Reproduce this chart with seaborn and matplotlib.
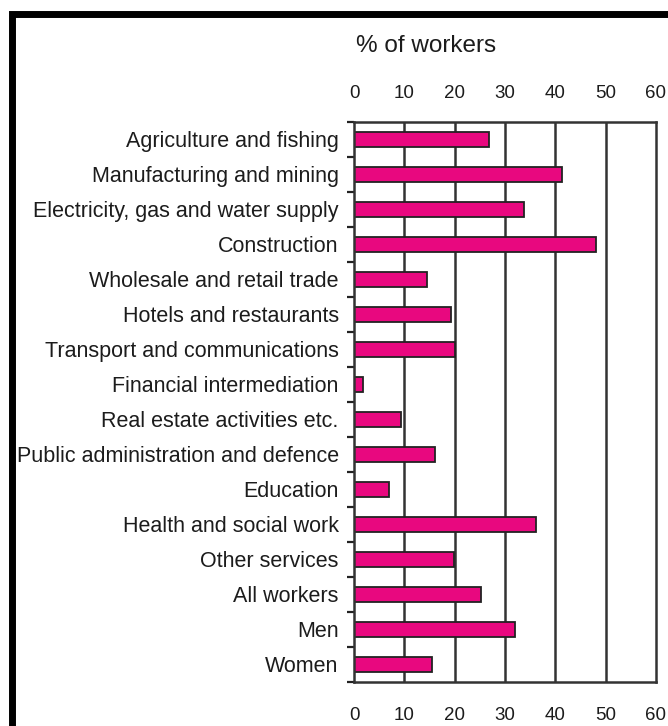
import matplotlib
matplotlib.use("Agg")
import matplotlib.pyplot as plt
import seaborn as sns
import pandas as pd
from matplotlib.patches import Rectangle

sectors = [
    "Agriculture and fishing", "Manufacturing and mining",
    "Electricity, gas and water supply", "Construction",
    "Wholesale and retail trade", "Hotels and restaurants",
    "Transport and communications", "Financial intermediation",
    "Real estate activities etc.", "Public administration and defence",
    "Education", "Health and social work", "Other services",
    "All workers", "Men", "Women",
]
pct_workers = [26.8, 41.4, 33.8, 48.0, 14.5, 19.2, 20.0, 1.8,
               9.3, 16.0, 7.0, 36.2, 19.8, 25.3, 32.0, 15.4]
x_ticks = [0, 10, 20, 30, 40, 50, 60]

BAR = "#E8087F"
INK = "#1c1c1c"

sns.set_theme(style="white")
plt.rcParams["font.family"] = ["Liberation Sans", "DejaVu Sans"]

df = pd.DataFrame({"sector": sectors, "pct": pct_workers})

fig = plt.figure(figsize=(6.68, 7.26), dpi=100)
ax = fig.add_axes([0.530, 0.061, 0.452, 0.771])

sns.barplot(data=df, x="pct", y="sector", orient="h", color=BAR,
            saturation=1, width=0.42, edgecolor="#222222", linewidth=1.3, ax=ax)

ax.set_xlim(0, 60)
ax.set_ylim(len(sectors) - 0.5, -0.5)
ax.set_xticks(x_ticks)
ax.set_xticklabels([str(t) for t in x_ticks])
for t in x_ticks[1:-1]:
    ax.axvline(t, color="#333333", linewidth=1.8, zorder=0)

ax.tick_params(axis="x", top=True, bottom=False, labeltop=True, labelbottom=True,
               length=0, pad=0, labelsize=13.5, labelcolor=INK)
# top and bottom labels sit well away from the frame
for tk in ax.xaxis.get_major_ticks():
    tk.label1.set_y(-0.045)
    tk.label2.set_y(1.035)

ax.set_yticks(range(len(sectors)))
ax.set_yticklabels(sectors)
ax.set_yticks([i - 0.5 for i in range(len(sectors) + 1)], minor=True)
ax.tick_params(axis="y", which="major", length=0, pad=11, labelsize=15.5, labelcolor=INK)
ax.tick_params(axis="y", which="minor", left=True, length=5, width=1.6, color="#222222")
ax.set_xlabel("")
ax.set_ylabel("")

for s in ax.spines.values():
    s.set_visible(True)
    s.set_color("#333333")
    s.set_linewidth(1.8)

fig.text(0.638, 0.937, "% of workers", ha="center", va="center", fontsize=17.5, color=INK)

# black frame, only the left and top edges fall inside the picture
fig.add_artist(Rectangle((0.0187, -0.2), 1.5, 0.2 + 0.9814, transform=fig.transFigure,
                         fill=False, edgecolor="black", linewidth=5, joinstyle="miter"))

fig.savefig("out.png", dpi=100)
